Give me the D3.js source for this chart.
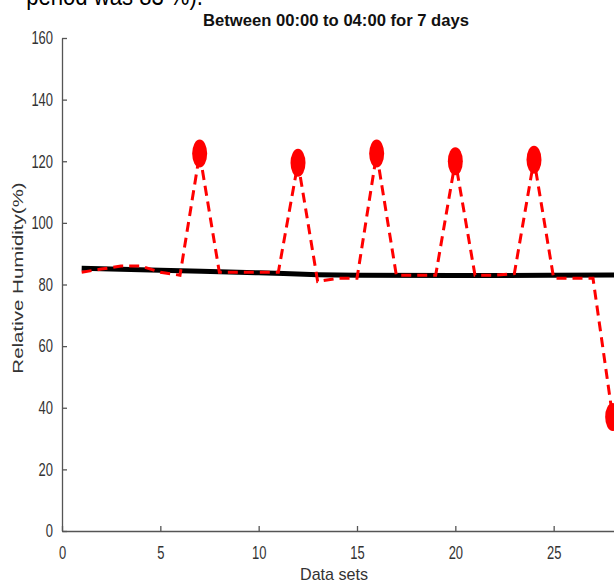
<html>
<head>
    <script src="https://d3js.org/d3.v7.min.js"></script>
    <style>
        body { margin: 0; background: #fff; }
        svg { display: block; }
        text { font-family: "Liberation Sans", Arial, sans-serif; }
    </style>
    <script>
        // measured relative humidity per data set
        data_sets = [1,2,3,4,5,6,7,8,9,10,11,12,13,14,15,16,17,18,19,20,21,22,23,24,25,26,27,28];
        humidity = [84,85,86,86,84,83,122.5,84,84,84,84,119.5,81,82,82,122.5,83,83,83,120,83,83,83.5,120.5,82,82,82,37];
        peaks = [7,12,16,20,24,28];

        // fitted trend (black)
        trend_x = [1,5,10,13,15,20,25,28,30];
        trend_y = [85.3,84.6,83.8,83.2,83.0,82.9,83.0,83.1,83.2];

        y_ticks = [0,20,40,60,80,100,120,140,160];
        x_ticks = [0,5,10,15,20,25];

        squeeze = 0.72; // the figure is horizontally compressed

        window.onload = function() {
            svg = d3.select("#graph").append("svg")
                .attr("width", 614)
                .attr("height", 584);

            x = d3.scaleLinear().domain([0, 30]).range([62, 652]);
            y = d3.scaleLinear().domain([0, 160]).range([531, 38]);

            // cropped caption text from the page above the figure
            svg.append("text")
                .attr("transform", "translate(203,5) scale(0.85,1)")
                .attr("text-anchor", "end")
                .attr("font-size", 26)
                .attr("fill", "#000")
                .text("period was 83 %).");

            svg.append("text")
                .attr("x", 203).attr("y", 26)
                .attr("textLength", 266)
                .attr("lengthAdjust", "spacingAndGlyphs")
                .attr("font-size", 16)
                .attr("font-weight", "bold")
                .attr("fill", "#111")
                .text("Between 00:00 to 04:00 for 7 days");

            xAxis = svg.append("g")
                .attr("transform", `translate(0,${y(0)})`)
                .call(d3.axisBottom(x).tickValues(x_ticks).tickSizeInner(-5).tickSizeOuter(0).tickPadding(15));
            yAxis = svg.append("g")
                .attr("transform", `translate(${x(0)},0)`)
                .call(d3.axisLeft(y).tickValues(y_ticks).tickSizeInner(-5).tickSizeOuter(0).tickPadding(9 / squeeze));

            [xAxis, yAxis].forEach(function(a) {
                a.selectAll("path, line").attr("stroke", "#555").attr("stroke-width", 1.3);
                a.selectAll("text").attr("font-size", 18).attr("fill", "#333")
                    .attr("font-family", "Liberation Sans, Arial, sans-serif")
                    .attr("transform", `scale(${squeeze},1)`);
            });

            svg.append("text")
                .attr("x", 300).attr("y", 580)
                .attr("textLength", 68)
                .attr("lengthAdjust", "spacingAndGlyphs")
                .attr("font-size", 17)
                .attr("fill", "#333")
                .text("Data sets");

            svg.append("text")
                .attr("transform", `translate(23,278) scale(${squeeze},1) rotate(-90)`)
                .attr("text-anchor", "middle")
                .attr("font-size", 20.5)
                .attr("fill", "#333")
                .text("Relative Humidity(%)");

            trend = trend_x.map(function(d, i) { return { x: d, y: trend_y[i] }; });
            svg.append("path")
                .datum(trend)
                .attr("fill", "none")
                .attr("stroke", "#000")
                .attr("stroke-width", 5)
                .attr("d", d3.line().curve(d3.curveMonotoneX)
                    .x(function(d) { return x(d.x); })
                    .y(function(d) { return y(d.y); }));

            data_packed = data_sets.map(function(d, i) { return { x: d, y: humidity[i] }; });
            svg.append("path")
                .datum(data_packed)
                .attr("fill", "none")
                .attr("stroke", "#ff0000")
                .attr("stroke-width", 3)
                .attr("stroke-dasharray", "10,6")
                .attr("d", d3.line()
                    .x(function(d) { return x(d.x); })
                    .y(function(d) { return y(d.y); }));

            svg.selectAll("ellipse.peak")
                .data(data_packed.filter(function(d) { return peaks.indexOf(d.x) >= 0; }))
                .enter().append("ellipse")
                .attr("class", "peak")
                .attr("cx", function(d) { return x(d.x); })
                .attr("cy", function(d) { return y(d.y); })
                .attr("rx", 7.5)
                .attr("ry", 14)
                .attr("fill", "#ff0000");
        }
    </script>
</head>
<body>
    <div id="graph"></div>
</body>
</html>
